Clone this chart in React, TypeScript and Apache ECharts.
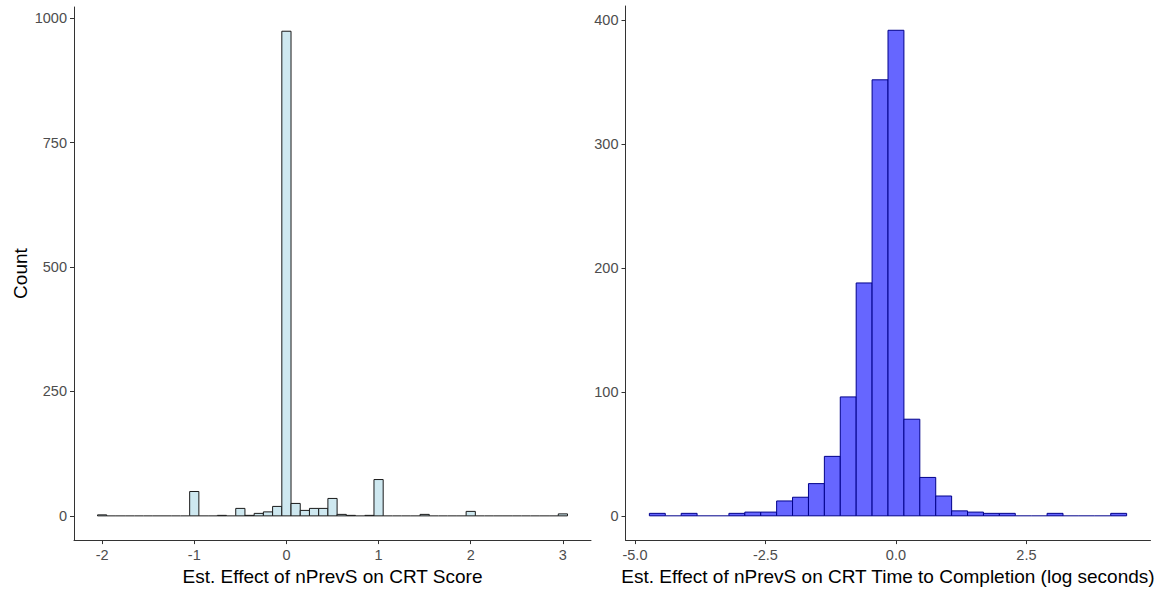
import React, { useEffect, useRef } from "react";
import * as echarts from "echarts";

// CRT score effect: bins 0.1 wide, centred on -2.0, -1.9, ... 3.0
const scoreBinFirstCenter = -2.0;
const scoreBinWidth = 0.1;
const scoreCounts = [
  2, 0, 0, 0, 0, 0, 0, 0, 0, 0,
  49, 0, 0, 1, 0, 15, 1, 5, 8, 19,
  974, 25, 11, 15, 15, 35, 3, 1, 0, 1,
  73, 0, 0, 0, 0, 3, 0, 0, 0, 0,
  9, 0, 0, 0, 0, 0, 0, 0, 0, 0,
  4,
];

// CRT time-to-completion effect: 30 bins starting at the left edge below
const timeBinFirstEdge = -4.724;
const timeBinWidth = 0.3048;
const timeCounts = [
  2, 0, 2, 0, 0, 2, 3, 3, 12, 15,
  26, 48, 96, 188, 352, 392, 78, 31, 16, 4,
  3, 2, 2, 0, 0, 2, 0, 0, 0, 2,
];

const scoreTicks = [-2, -1, 0, 1, 2, 3];
const scoreCountTicks = [0, 250, 500, 750, 1000];
const timeTicks = [-5, -2.5, 0, 2.5];
const timeCountTicks = [0, 100, 200, 300, 400];

const scoreTitle = "Est. Effect of nPrevS on CRT Score";
const timeTitle = "Est. Effect of nPrevS on CRT Time to Completion (log seconds)";
const countTitle = "Count";

const FONT = "'Liberation Sans', Arial, sans-serif";
const AXIS_COLOR = "#333333";
const TICK_TEXT = "#4D4D4D";
const TITLE_SIZE = 19;
const TICK_SIZE = 14.5;

// ggplot-style 5% expansion on both ends of a range
function expand(lo: number, hi: number): [number, number] {
  const pad = (hi - lo) * 0.05;
  return [lo - pad, hi + pad];
}

function histSeries(
  centers: number[],
  counts: number[],
  width: number,
  fill: string,
  stroke: string,
  axisIndex: number
) {
  return {
    type: "custom",
    xAxisIndex: axisIndex,
    yAxisIndex: axisIndex,
    data: centers.map((c, i) => [c, counts[i]]),
    clip: false,
    renderItem: (_params: any, api: any) => {
      const x = api.value(0);
      const n = api.value(1);
      const p0 = api.coord([x - width / 2, 0]);
      const p1 = api.coord([x + width / 2, n]);
      if (n === 0) {
        return {
          type: "line",
          shape: { x1: p0[0], y1: p0[1], x2: p1[0], y2: p0[1] },
          style: { stroke, lineWidth: 1 },
        };
      }
      return {
        type: "rect",
        shape: { x: p0[0], y: p1[1], width: p1[0] - p0[0], height: p0[1] - p1[1] },
        style: { fill, stroke, lineWidth: 1 },
      };
    },
  };
}

function xAxisFor(
  range: [number, number],
  ticks: number[],
  name: string,
  gridIndex: number,
  fmt: (v: number) => string
) {
  return {
    type: "value",
    gridIndex,
    min: range[0],
    max: range[1],
    name,
    nameLocation: "middle",
    nameGap: 25,
    nameTextStyle: { fontFamily: FONT, fontSize: TITLE_SIZE, color: "#000000" },
    axisLine: { show: true, onZero: false, lineStyle: { color: AXIS_COLOR, width: 1 } },
    axisTick: { show: true, length: 4, customValues: ticks, lineStyle: { color: AXIS_COLOR } },
    axisLabel: {
      show: true,
      customValues: ticks,
      margin: 7,
      fontFamily: FONT,
      fontSize: TICK_SIZE,
      color: TICK_TEXT,
      formatter: (v: number) => fmt(v),
    },
    splitLine: { show: false },
  };
}

function yAxisFor(range: [number, number], ticks: number[], gridIndex: number, name: string) {
  return {
    type: "value",
    gridIndex,
    min: range[0],
    max: range[1],
    name,
    nameLocation: "middle",
    nameGap: 44,
    nameRotate: 90,
    nameTextStyle: { fontFamily: FONT, fontSize: TITLE_SIZE, color: "#000000" },
    axisLine: { show: true, onZero: false, lineStyle: { color: AXIS_COLOR, width: 1 } },
    axisTick: { show: true, length: 4, customValues: ticks, lineStyle: { color: AXIS_COLOR } },
    axisLabel: {
      show: true,
      customValues: ticks,
      margin: 7,
      fontFamily: FONT,
      fontSize: TICK_SIZE,
      color: TICK_TEXT,
      formatter: (v: number) => String(v),
    },
    splitLine: { show: false },
  };
}

export default function App() {
  const ref = useRef<HTMLDivElement>(null);

  useEffect(() => {
    if (!ref.current) return;
    const chart = echarts.init(ref.current, undefined, { renderer: "svg" });

    const scoreCenters = scoreCounts.map((_, i) => scoreBinFirstCenter + i * scoreBinWidth);
    const timeCenters = timeCounts.map((_, i) => timeBinFirstEdge + (i + 0.5) * timeBinWidth);

    const scoreX = expand(
      scoreCenters[0] - scoreBinWidth / 2,
      scoreCenters[scoreCenters.length - 1] + scoreBinWidth / 2
    );
    const timeX = expand(timeBinFirstEdge, timeBinFirstEdge + timeCounts.length * timeBinWidth);
    const scoreY = expand(0, Math.max(...scoreCounts));
    const timeY = expand(0, Math.max(...timeCounts));

    chart.setOption({
      animation: false,
      backgroundColor: "#FFFFFF",
      grid: [
        { left: 74, top: 7, width: 517, height: 536 },
        { left: 625.5, top: 6, width: 525, height: 537 },
      ],
      xAxis: [
        xAxisFor(scoreX, scoreTicks, scoreTitle, 0, (v) => String(v)),
        xAxisFor(timeX, timeTicks, timeTitle, 1, (v) => v.toFixed(1)),
      ],
      yAxis: [
        yAxisFor(scoreY, scoreCountTicks, 0, countTitle),
        yAxisFor(timeY, timeCountTicks, 1, ""),
      ],
      series: [
        histSeries(scoreCenters, scoreCounts, scoreBinWidth, "#CEE8F0", "#1A1A1A", 0),
        histSeries(timeCenters, timeCounts, timeBinWidth, "#6666FF", "#00008B", 1),
      ],
    });

    return () => chart.dispose();
  }, []);

  return (
    <div
      ref={ref}
      style={{ position: "fixed", left: 0, top: 0, width: 1161, height: 591, background: "#FFFFFF" }}
    />
  );
}
